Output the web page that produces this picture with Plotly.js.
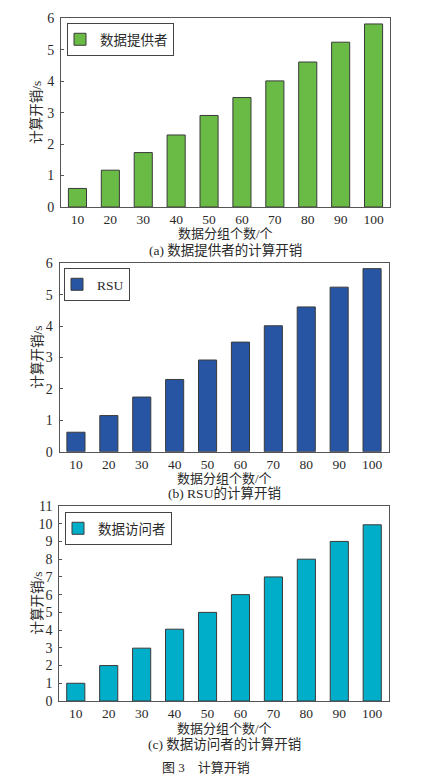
<!DOCTYPE html>
<html>
<head>
<meta charset="utf-8">
<script src="https://cdn.plot.ly/plotly-3.0.1.min.js"></script>
<style>
html,body{margin:0;padding:0;background:#fff;}
#chart{width:436px;height:782px;}
</style>
</head>
<body>
<div id="chart"></div>
<script>
const categories = ["10","20","30","40","50","60","70","80","90","100"];
const providerCost = [0.59, 1.17, 1.73, 2.29, 2.91, 3.48, 4.01, 4.61, 5.24, 5.82];
const rsuCost = [0.62, 1.15, 1.74, 2.30, 2.92, 3.49, 4.01, 4.61, 5.24, 5.83];
const visitorCost = [1.0, 2.0, 2.98, 4.05, 5.0, 6.0, 7.0, 8.0, 9.0, 9.94];
const seriesNames = ["数据提供者", "RSU", "数据访问者"];
const captions = ["(a) 数据提供者的计算开销", "(b) RSU的计算开销", "(c) 数据访问者的计算开销"];
const xTitle = "数据分组个数/个";
const yTitle = "计算开销/s";
const figTitle = "图 3　计算开销";

const FONT = "Liberation Serif, 'Noto Sans CJK SC', serif";
const TXT = "#2a2a2a";
const colors = ["#6abb45", "#2755a4", "#00aec9"];

const W = 436, H = 782;
const px = v => v / W;
const py = v => 1 - v / H;

const panels = [
  {x0: 61, x1: 390, top: 18.3, bot: 207, range: [0, 6], dtick: 1, data: providerCost,
   legend: {x: 67, y: 23}, xt: 234, cap: 250},
  {x0: 59.5, x1: 388.5, top: 263.3, bot: 451.7, range: [0, 6], dtick: 1, data: rsuCost,
   legend: {x: 64, y: 268}, xt: 478, cap: 493},
  {x0: 59.3, x1: 388.7, top: 506, bot: 701, range: [0, 11], dtick: 1, data: visitorCost,
   legend: {x: 65, y: 512}, xt: 728, cap: 744}
];

const traces = [];
const layout = {
  width: W, height: H,
  margin: {l: 0, r: 0, t: 0, b: 0},
  paper_bgcolor: "#fff", plot_bgcolor: "#fff",
  font: {family: FONT, size: 13, color: TXT},
  showlegend: true,
  bargap: 0.45,
  annotations: []
};

panels.forEach((p, i) => {
  const sfx = i === 0 ? "" : String(i + 1);
  const legName = "legend" + sfx;
  traces.push({
    type: "bar",
    x: categories,
    y: p.data,
    name: seriesNames[i],
    xaxis: "x" + sfx,
    yaxis: "y" + sfx,
    legend: legName,
    marker: {color: colors[i], line: {color: "#3a3a3a", width: 1}},
    hoverinfo: "x+y"
  });
  layout["xaxis" + sfx] = {
    domain: [px(p.x0), px(p.x1)],
    anchor: "y" + sfx,
    type: "category",
    range: [-0.5, 9.5],
    showline: true, linecolor: "#555", linewidth: 1, mirror: true,
    ticks: "", showgrid: false, zeroline: false,
    tickfont: {family: FONT, size: 13.5, color: TXT},
    fixedrange: true
  };
  layout["yaxis" + sfx] = {
    domain: [py(p.bot), py(p.top)],
    anchor: "x" + sfx,
    range: p.range,
    dtick: p.dtick, tick0: 0,
    showline: true, linecolor: "#555", linewidth: 1, mirror: true,
    ticks: "inside", ticklen: 3, tickcolor: "#555", tickwidth: 1,
    ticklabelstandoff: 3,
    showgrid: false, zeroline: false,
    tickfont: {family: FONT, size: 14, color: TXT},
    fixedrange: true
  };
  layout[legName] = {
    x: px(p.legend.x), y: py(p.legend.y),
    xanchor: "left", yanchor: "top",
    bgcolor: "#fff", bordercolor: "#444", borderwidth: 1,
    font: {family: FONT, size: 13.5, color: TXT},
    itemwidth: 30,
    indentation: -8,
    tracegroupgap: 0
  };
  const cx = px((p.x0 + p.x1) / 2);
  layout.annotations.push({
    text: xTitle, xref: "paper", yref: "paper", x: cx, y: py(p.xt),
    showarrow: false, xanchor: "center", yanchor: "middle",
    font: {family: FONT, size: 13, color: TXT}
  });
  layout.annotations.push({
    text: captions[i], xref: "paper", yref: "paper", x: cx, y: py(p.cap),
    showarrow: false, xanchor: "center", yanchor: "middle",
    font: {family: FONT, size: 13.5, color: TXT}
  });
  layout.annotations.push({
    text: yTitle, xref: "paper", yref: "paper", x: px(37), y: py((p.top + p.bot) / 2),
    showarrow: false, xanchor: "center", yanchor: "middle", textangle: -90,
    font: {family: FONT, size: 13.5, color: TXT}
  });
});

layout.annotations.push({
  text: figTitle, xref: "paper", yref: "paper", x: px(206), y: py(767),
  showarrow: false, xanchor: "center", yanchor: "middle",
  font: {family: FONT, size: 13, color: TXT}
});

Plotly.newPlot("chart", traces, layout, {displayModeBar: false, staticPlot: true});
</script>
</body>
</html>
